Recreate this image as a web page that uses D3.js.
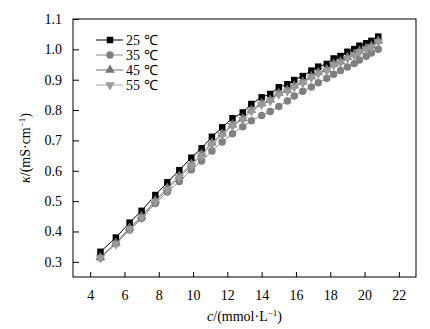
<!DOCTYPE html>
<html><head><meta charset="utf-8">
<script src="https://cdn.jsdelivr.net/npm/d3@7"></script>
<style>body{margin:0;background:#fff}svg{display:block}svg text{font-family:"Liberation Serif",serif;}</style>
</head><body><div id="chart"></div>
<script>
const conc = [4.6,5.5,6.3,7.0,7.8,8.5,9.2,9.9,10.5,11.1,11.7,12.3,12.9,13.4,14.0,14.5,15.0,15.5,15.9,16.4,16.9,17.3,17.8,18.2,18.6,19.0,19.4,19.7,20.1,20.4,20.8];
const k25 = [0.333,0.380,0.429,0.468,0.520,0.562,0.602,0.643,0.674,0.712,0.743,0.773,0.792,0.820,0.842,0.853,0.875,0.885,0.899,0.912,0.930,0.943,0.952,0.970,0.978,0.992,1.001,1.012,1.020,1.028,1.042];
const k35 = [0.313,0.360,0.405,0.443,0.492,0.530,0.565,0.603,0.632,0.665,0.695,0.722,0.745,0.765,0.782,0.795,0.812,0.830,0.846,0.862,0.876,0.890,0.905,0.918,0.930,0.942,0.953,0.965,0.977,0.988,1.000];
const k45 = [0.315,0.362,0.412,0.450,0.502,0.543,0.583,0.622,0.655,0.692,0.722,0.752,0.772,0.800,0.822,0.834,0.856,0.866,0.880,0.893,0.911,0.924,0.934,0.952,0.960,0.974,0.984,0.995,1.004,1.012,1.028];
const k55 = [0.313,0.358,0.408,0.446,0.498,0.538,0.578,0.617,0.650,0.687,0.718,0.748,0.768,0.796,0.818,0.830,0.852,0.862,0.876,0.889,0.907,0.920,0.930,0.948,0.956,0.970,0.980,0.991,1.000,1.008,1.024];
const seriesNames = ["25 ℃","35 ℃","45 ℃","55 ℃"];
const xTicks = [4,6,8,10,12,14,16,18,20,22];
const yTicks = [0.3,0.4,0.5,0.6,0.7,0.8,0.9,1.0,1.1];

const FONT='"Liberation Serif", serif';
const W=430,H=329;
const m={l:73,r:14,t:19,b:52};
const svg=d3.select("#chart").append("svg").attr("width",W).attr("height",H).attr("font-family",FONT);
const x=d3.scaleLinear().domain([3,23]).range([m.l,W-m.r]);
const y=d3.scaleLinear().domain([0.25,1.1]).range([H-m.b,m.t]);

const styles=[
 {data:k25,line:"#000",fill:"#000",sym:d3.symbolSquare,size:42,rot:0},
 {data:k35,line:"#8a8a8a",fill:"#808080",sym:d3.symbolCircle,size:44,rot:0},
 {data:k45,line:"#707070",fill:"#767676",sym:d3.symbolTriangle,size:40,rot:0},
 {data:k55,line:"#a6a6a6",fill:"#9a9a9a",sym:d3.symbolTriangle,size:40,rot:180}
];

svg.append("rect").attr("x",m.l).attr("y",m.t).attr("width",W-m.r-m.l).attr("height",H-m.b-m.t)
  .attr("fill","none").attr("stroke","#000").attr("stroke-width",1);

const gx=svg.append("g").attr("transform",`translate(0,${H-m.b})`)
  .call(d3.axisBottom(x).tickValues(xTicks).tickSize(-5).tickPadding(13).tickFormat(d3.format("d")));
const gy=svg.append("g").attr("transform",`translate(${m.l},0)`)
  .call(d3.axisLeft(y).tickValues(yTicks).tickSize(-6).tickPadding(11).tickFormat(d3.format(".1f")));
[gx,gy].forEach(g=>{g.attr("font-family",FONT).attr("font-size",14);g.select(".domain").remove();g.selectAll("line").attr("stroke","#000");
  g.selectAll("text").attr("fill","#000");});

const line=d3.line().x((d,i)=>x(conc[i])).y(d=>y(d));
styles.forEach(s=>{
  svg.append("path").datum(s.data).attr("d",line).attr("fill","none").attr("stroke",s.line).attr("stroke-width",1);
});
styles.forEach(s=>{
  const sym=d3.symbol().type(s.sym).size(s.size);
  svg.append("g").selectAll("path").data(s.data).join("path")
    .attr("d",sym).attr("fill",s.fill)
    .attr("transform",(d,i)=>`translate(${x(conc[i])},${y(d)}) rotate(${s.rot})`);
});

const lg=svg.append("g");
styles.forEach((s,i)=>{
  const yy=40+i*15;
  lg.append("line").attr("x1",96).attr("x2",123).attr("y1",yy).attr("y2",yy).attr("stroke",s.line).attr("stroke-width",1);
  lg.append("path").attr("d",d3.symbol().type(s.sym).size(s.size)()).attr("fill",s.fill)
    .attr("transform",`translate(110,${yy}) rotate(${s.rot})`);
  lg.append("text").attr("x",126).attr("y",yy+5).attr("font-size",14).text(seriesNames[i]);
});

const xl=svg.append("text").attr("x",(m.l+W-m.r)/2).attr("y",321).attr("text-anchor","middle").attr("font-size",14);
xl.append("tspan").attr("font-style","italic").text("c");
xl.append("tspan").text("/(mmol·L");
xl.append("tspan").attr("font-size",9).attr("dy",-5).text("−1");
xl.append("tspan").attr("dy",5).text(")");

const yl=svg.append("text").attr("transform",`translate(30,${(m.t+H-m.b)/2}) rotate(-90)`).attr("text-anchor","middle").attr("font-size",14);
yl.append("tspan").attr("font-style","italic").text("κ");
yl.append("tspan").text("/(mS·cm");
yl.append("tspan").attr("font-size",9).attr("dy",-5).text("−1");
yl.append("tspan").attr("dy",5).text(")");
</script></body></html>
